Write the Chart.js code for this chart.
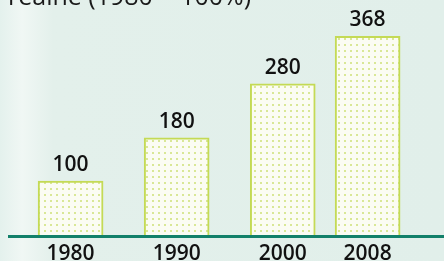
<!DOCTYPE html>
<html>
<head>
<meta charset="utf-8">
<script src="https://cdn.jsdelivr.net/npm/chart.js@4/dist/chart.umd.min.js"></script>
<style>
  html, body { margin: 0; padding: 0; background: #e2f0eb; }
  #wrap { width: 444px; height: 261px; }
</style>
</head>
<body>
<div id="wrap"><canvas id="chart"></canvas></div>
<script>
// Données
const years = [1980, 1990, 2000, 2008];
const values = [100, 180, 280, 368];
const titleText = 'realne (1980 = 100%)';

// Motif pointillé des barres
function dotPattern() {
  const c = document.createElement('canvas');
  c.width = 6; c.height = 6;
  const g = c.getContext('2d');
  g.fillStyle = '#fbfcf3';
  g.fillRect(0, 0, 6, 6);
  g.fillStyle = '#d9e796';
  g.fillRect(2, 2, 2, 2);
  return g.createPattern(c, 'repeat');
}

// Fond, titre, axe et étiquettes
const decor = {
  id: 'decor',
  beforeDraw(chart) {
    const ctx = chart.ctx;
    const grad = ctx.createLinearGradient(0, 0, 444, 0);
    grad.addColorStop(0, '#e4f1ed');
    grad.addColorStop(0.05, '#f0f7f4');
    grad.addColorStop(0.12, '#e3f0eb');
    grad.addColorStop(1, '#e1efea');
    ctx.save();
    ctx.fillStyle = grad;
    ctx.fillRect(0, 0, chart.width, chart.height);
    ctx.fillStyle = '#1a1a1a';
    ctx.font = '25px "Open Sans"';
    ctx.textBaseline = 'alphabetic';
    ctx.fillText(titleText, 8, 5);
    ctx.restore();
  },
  afterDraw(chart) {
    const ctx = chart.ctx;
    const x = chart.scales.x;
    const y = chart.scales.y;
    const base = y.getPixelForValue(0);
    ctx.save();
    ctx.strokeStyle = '#12806a';
    ctx.lineWidth = 3;
    ctx.beginPath();
    ctx.moveTo(8, base + 1.5);
    ctx.lineTo(444, base + 1.5);
    ctx.stroke();
    ctx.fillStyle = '#111';
    ctx.textAlign = 'center';
    ctx.textBaseline = 'alphabetic';
    ctx.font = '600 21px "Open Sans"';
    years.forEach((yr, i) => {
      const px = x.getPixelForValue(yr);
      ctx.fillText(String(yr), px, 260);
      ctx.fillText(String(values[i]), px, y.getPixelForValue(values[i]) - 10);
    });
    ctx.restore();
  }
};

new Chart(document.getElementById('chart'), {
  type: 'bar',
  data: {
    datasets: [{
      data: years.map((yr, i) => ({ x: yr, y: values[i] })),
      backgroundColor: dotPattern(),
      borderColor: '#c4da55',
      borderWidth: 2,
      borderSkipped: 'bottom',
      barThickness: 65
    }]
  },
  options: {
    responsive: true,
    maintainAspectRatio: false,
    animation: false,
    layout: { padding: { left: 8, right: 0, top: 20, bottom: 26 } },
    plugins: { legend: { display: false }, tooltip: { enabled: false } },
    scales: {
      x: { type: 'linear', min: 1974.1, max: 2015.2, offset: false, display: false },
      y: { min: 0, max: 398, display: false }
    }
  },
  plugins: [decor]
});
</script>
</body>
</html>
